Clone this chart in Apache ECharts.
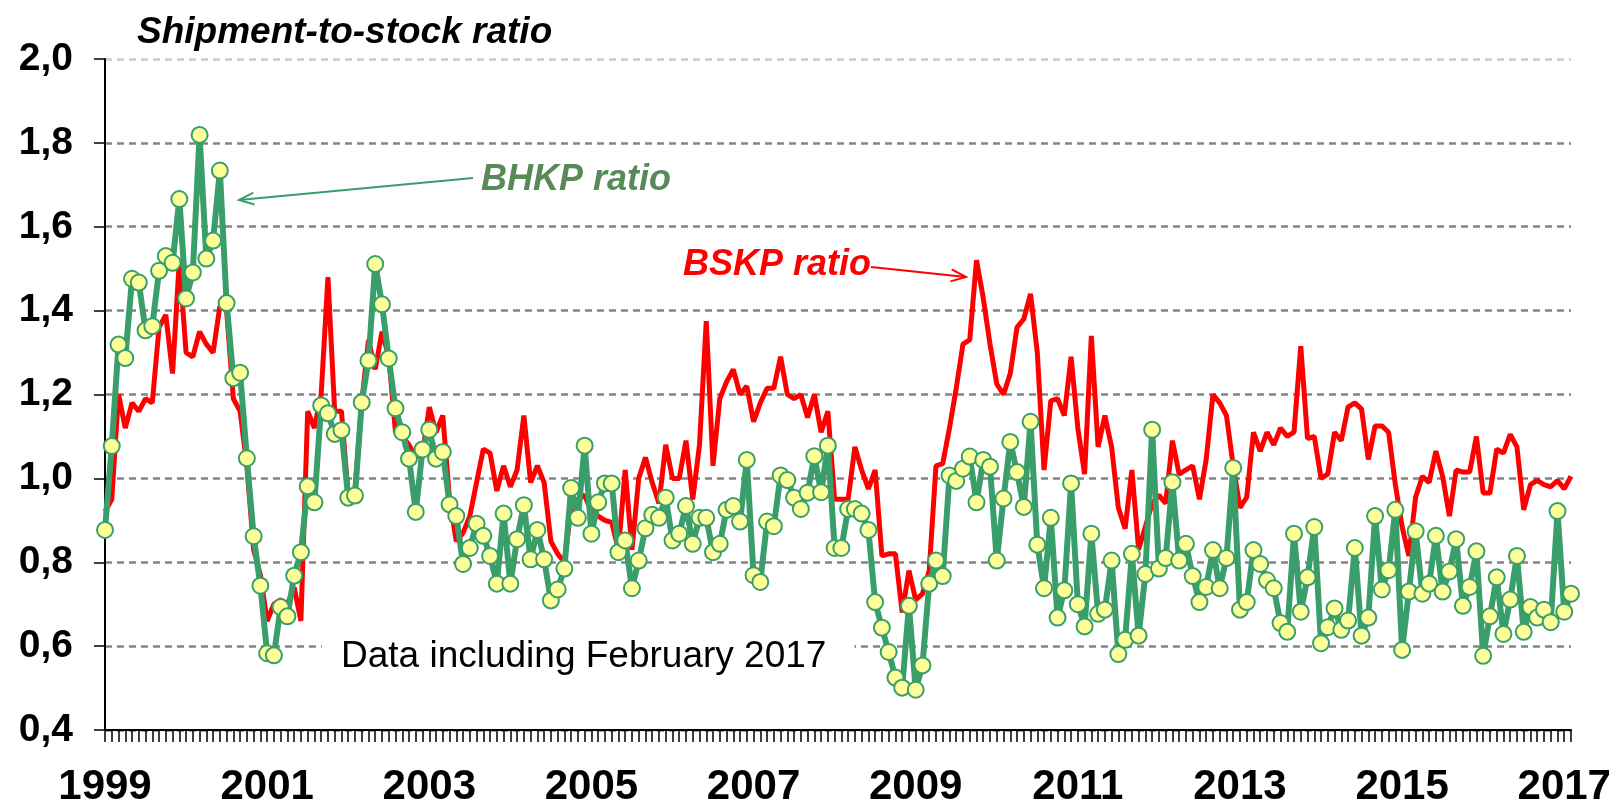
<!DOCTYPE html>
<html>
<head>
<meta charset="utf-8">
<script src="https://cdn.jsdelivr.net/npm/echarts@6/dist/echarts.min.js"></script>
<style>
html,body{margin:0;padding:0;background:#fff;}
#chart{width:1618px;height:808px;}
</style>
</head>
<body>
<div id="chart"></div>
<script>
// Monthly data, January 1999 .. February 2017
const startYear = 1999;
const monthCount = 218;
const yearTickLabels = ['1999','2001','2003','2005','2007','2009','2011','2013','2015','2017'];
const yTickLabels = ['0,4','0,6','0,8','1,0','1,2','1,4','1,6','1,8','2,0'];

// BSKP shipment-to-stock ratio (red)
const bskp = [
  0.92, 0.95, 1.20, 1.12, 1.18, 1.16, 1.19, 1.18, 1.36, 1.39, 1.25, 1.52,
  1.30, 1.29, 1.35, 1.32, 1.30, 1.41, 1.40, 1.19, 1.16, 1.03, 0.83, 0.77,
  0.66, 0.70, 0.71, 0.70, 0.74, 0.66, 1.16, 1.12, 1.20, 1.48, 1.16, 1.16,
  0.96, 0.97, 1.18, 1.33, 1.26, 1.35, 1.29, 1.11, 1.10, 1.08, 1.05, 1.06,
  1.17, 1.11, 1.15, 0.95, 0.85, 0.87, 0.91, 0.99, 1.07, 1.06, 0.97, 1.03,
  0.98, 1.02, 1.15, 0.99, 1.03, 0.99, 0.85, 0.82, 0.80, 0.93, 0.95, 0.96,
  0.92, 0.91, 0.90, 0.895, 0.83, 1.02, 0.83, 1.00, 1.05, 0.99, 0.94, 1.08,
  1.00, 1.00, 1.09, 0.95, 1.08, 1.375, 1.03, 1.19, 1.23, 1.26, 1.20, 1.22,
  1.135, 1.18, 1.215, 1.215, 1.29, 1.20, 1.19, 1.20, 1.145, 1.20, 1.11, 1.16,
  0.95, 0.95, 0.95, 1.075, 1.02, 0.975, 1.02, 0.815, 0.82, 0.82, 0.68, 0.78,
  0.71, 0.725, 0.78, 1.03, 1.035, 1.12, 1.215, 1.32, 1.33, 1.52, 1.43, 1.32,
  1.225, 1.20, 1.25, 1.36, 1.38, 1.44, 1.30, 1.02, 1.185, 1.19, 1.15, 1.29,
  1.12, 1.01, 1.34, 1.075, 1.15, 1.075, 0.93, 0.88, 1.02, 0.83, 0.885, 0.94,
  0.96, 0.94, 1.09, 1.01, 1.02, 1.03, 0.95, 1.045, 1.20, 1.18, 1.15, 1.03,
  0.93, 0.955, 1.11, 1.065, 1.11, 1.08, 1.12, 1.10, 1.11, 1.315, 1.095, 1.10,
  1.00, 1.01, 1.11, 1.09, 1.17, 1.18, 1.165, 1.045, 1.125, 1.125, 1.11, 0.985,
  0.885, 0.815, 0.955, 1.005, 0.99, 1.065, 1.005, 0.91, 1.02, 1.015, 1.015, 1.10,
  0.965, 0.965, 1.07, 1.06, 1.105, 1.075, 0.925, 0.985, 0.995, 0.985, 0.98, 0.995,
  0.975, 1.005
];

// BHKP shipment-to-stock ratio (green with markers)
const bhkp = [
  0.877, 1.077, 1.319, 1.287, 1.476, 1.467, 1.353, 1.363, 1.495, 1.530, 1.514, 1.666,
  1.429, 1.491, 1.819, 1.524, 1.567, 1.734, 1.418, 1.239, 1.252, 1.048, 0.862, 0.744,
  0.583, 0.578, 0.693, 0.671, 0.768, 0.824, 0.981, 0.943, 1.174, 1.155, 1.106, 1.115,
  0.954, 0.959, 1.181, 1.281, 1.511, 1.415, 1.286, 1.167, 1.110, 1.047, 0.920, 1.069,
  1.116, 1.047, 1.063, 0.938, 0.910, 0.796, 0.834, 0.892, 0.863, 0.815, 0.749, 0.916,
  0.749, 0.855, 0.936, 0.807, 0.877, 0.807, 0.709, 0.735, 0.785, 0.977, 0.906, 1.078,
  0.868, 0.943, 0.988, 0.988, 0.824, 0.852, 0.738, 0.804, 0.881, 0.913, 0.906, 0.954,
  0.852, 0.868, 0.934, 0.844, 0.906, 0.906, 0.824, 0.844, 0.925, 0.934, 0.897, 1.044,
  0.769, 0.753, 0.897, 0.886, 1.007, 0.996, 0.954, 0.927, 0.966, 1.053, 0.967, 1.078,
  0.834, 0.834, 0.927, 0.927, 0.916, 0.877, 0.705, 0.644, 0.586, 0.525, 0.501, 0.696,
  0.496, 0.554, 0.749, 0.804, 0.767, 1.007, 0.994, 1.023, 1.052, 0.943, 1.044, 1.028,
  0.804, 0.952, 1.087, 1.015, 0.932, 1.135, 0.842, 0.738, 0.906, 0.668, 0.733, 0.988,
  0.700, 0.647, 0.868, 0.677, 0.687, 0.804, 0.581, 0.615, 0.820, 0.625, 0.772, 1.116,
  0.785, 0.810, 0.991, 0.804, 0.844, 0.767, 0.705, 0.741, 0.829, 0.738, 0.810, 1.025,
  0.687, 0.705, 0.829, 0.796, 0.757, 0.738, 0.655, 0.634, 0.868, 0.682, 0.764, 0.884,
  0.607, 0.645, 0.690, 0.639, 0.661, 0.834, 0.625, 0.668, 0.910, 0.735, 0.781, 0.925,
  0.591, 0.730, 0.874, 0.725, 0.749, 0.863, 0.730, 0.778, 0.855, 0.696, 0.741, 0.826,
  0.577, 0.671, 0.764, 0.629, 0.711, 0.815, 0.634, 0.693, 0.668, 0.687, 0.657, 0.922,
  0.682, 0.725
];

const months = [];
for (let i = 0; i < monthCount; i++) {
  const y = startYear + Math.floor(i / 12);
  const m = (i % 12) + 1;
  months.push(y + '-' + (m < 10 ? '0' + m : m));
}

const GREEN = '#3a9e6b';
const RED = '#ff0000';

function arrow(x1, y1, x2, y2, color) {
  const dx = x2 - x1, dy = y2 - y1;
  const len = Math.sqrt(dx * dx + dy * dy);
  const ux = dx / len, uy = dy / len;
  const L = 15, W = 6;
  const bx = x2 - ux * L, by = y2 - uy * L;
  const px = -uy, py = ux;
  return [
    { type: 'line', z: 50, shape: { x1: x1, y1: y1, x2: x2, y2: y2 }, style: { stroke: color, lineWidth: 2 } },
    { type: 'polyline', z: 50, shape: { points: [[bx + px * W, by + py * W], [x2, y2], [bx - px * W, by - py * W]] },
      style: { stroke: color, lineWidth: 2, fill: null } }
  ];
}

const chart = echarts.init(document.getElementById('chart'));
const gridColors = ['#858585','#858585','#858585','#858585','#858585','#858585','#858585','#858585','#cccccc'];

chart.setOption({
  animation: false,
  backgroundColor: '#ffffff',
  grid: { left: 105, right: 47, top: 59, bottom: 78, containLabel: false },
  xAxis: {
    type: 'category',
    data: months,
    boundaryGap: false,
    axisLine: { show: true, lineStyle: { color: '#000', width: 2 } },
    axisTick: { show: true, interval: 0, length: 12, lineStyle: { color: '#000', width: 1.5 } },
    axisLabel: {
      interval: function (idx) { return idx % 24 === 0; },
      formatter: function (v) { const y = v.slice(0, 4); return yearTickLabels.indexOf(y) >= 0 ? y : ''; },
      fontFamily: 'Liberation Sans, Arial, sans-serif',
      fontWeight: 'bold',
      fontSize: 42,
      color: '#000',
      margin: 36
    },
    splitLine: { show: false }
  },
  yAxis: {
    type: 'value',
    min: 0.4,
    max: 2.0,
    interval: 0.2,
    axisLine: { show: true, lineStyle: { color: '#000', width: 2 } },
    axisTick: { show: true, length: 11, lineStyle: { color: '#000', width: 1.5 } },
    axisLabel: {
      formatter: function (v) { const k = Math.round((v - 0.4) / 0.2); return yTickLabels[k] || ''; },
      fontFamily: 'Liberation Sans, Arial, sans-serif',
      fontWeight: 'bold',
      fontSize: 39,
      color: '#000',
      margin: 32
    },
    splitLine: { show: true, lineStyle: { color: gridColors, width: 2.5, type: [7, 5] } }
  },
  series: [
    {
      name: 'BSKP ratio',
      type: 'line',
      data: bskp,
      showSymbol: false,
      symbol: 'none',
      lineStyle: { color: RED, width: 5 },
      itemStyle: { color: RED },
      z: 2
    },
    {
      name: 'BHKP ratio',
      type: 'line',
      data: bhkp,
      symbol: 'circle',
      symbolSize: 16,
      showAllSymbol: true,
      lineStyle: { color: GREEN, width: 6 },
      itemStyle: { color: '#ffff99', borderColor: GREEN, borderWidth: 2 },
      z: 3
    }
  ],
  graphic: [
    { type: 'text', left: 137, top: 14, z: 60,
      style: { text: 'Shipment-to-stock ratio', font: 'italic bold 37px "Liberation Sans", Arial, sans-serif', fill: '#000' } },
    { type: 'text', x: 481, y: 180, z: 60,
      style: { text: 'BHKP ratio', font: 'italic bold 36px "Liberation Sans", Arial, sans-serif', fill: '#588a58', textVerticalAlign: 'middle' } },
    { type: 'text', x: 683, y: 265, z: 60,
      style: { text: 'BSKP ratio', font: 'italic bold 36px "Liberation Sans", Arial, sans-serif', fill: RED, textVerticalAlign: 'middle' } },
    { type: 'text', x: 322, y: 657, z: 40,
      style: { text: 'Data including February 2017', font: '37px "Liberation Sans", Arial, sans-serif', fill: '#000',
        textVerticalAlign: 'middle', backgroundColor: '#fff', padding: [2, 28, 2, 19] } }
  ].concat(arrow(473, 178, 239, 200, GREEN)).concat(arrow(871, 267, 966, 277, RED))
});
</script>
</body>
</html>
